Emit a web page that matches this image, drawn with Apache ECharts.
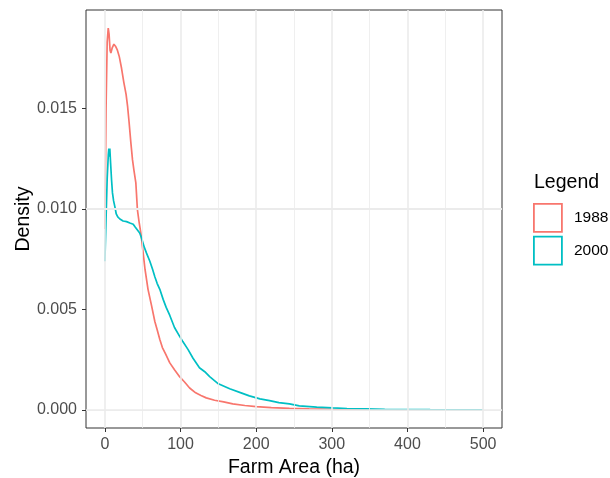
<!DOCTYPE html>
<html>
<head>
<meta charset="utf-8">
<script src="https://cdn.jsdelivr.net/npm/echarts@6/dist/echarts.min.js"></script>
<style>
  html, body { margin: 0; padding: 0; background: #fff; }
  #chart { width: 610px; height: 478px; }
</style>
</head>
<body>
<div id="chart"></div>
<script>
// Kernel density of farm area (ha), two census years: [area, density]
const density1988 = [
  [0, 0.0090], [1.5, 0.0150], [3, 0.0183], [4.4, 0.0190], [5.5, 0.0187], [6.8, 0.0179],
  [7.9, 0.01776], [9.5, 0.0180], [11.9, 0.0182], [14, 0.0181], [16.5, 0.0179], [19, 0.01758],
  [22, 0.0170], [25, 0.0163], [28, 0.0157], [30, 0.0151], [32, 0.0143], [34.3, 0.0133],
  [36.5, 0.01244], [38.5, 0.0119], [40.9, 0.0113], [43, 0.00995], [45, 0.0094], [47.5, 0.0088],
  [50, 0.0080], [53, 0.0070], [57, 0.0060], [61.6, 0.0052], [66, 0.0044], [69, 0.0040],
  [72.6, 0.0035], [76, 0.0031], [80, 0.0028], [85.8, 0.00234], [92, 0.0020], [99, 0.00164],
  [105, 0.0014], [112, 0.00109], [120, 0.00085], [127, 0.00072], [134, 0.0006], [145, 0.00048],
  [157, 0.0004], [169, 0.0003], [185, 0.00022], [200, 0.00016], [220, 0.00011], [244, 0.00008],
  [270, 0.00005], [300, 0.00003], [340, 0.000015], [380, 0.000008], [420, 0.000004],
  [460, 0.000002], [500, 0]
];
const density2000 = [
  [0, 0.0074], [1.5, 0.0095], [3, 0.0115], [4.5, 0.0127], [5.2, 0.0130], [5.8, 0.0126],
  [6.5, 0.0130], [7.5, 0.0123], [8.8, 0.01144], [10, 0.0108], [11.5, 0.0104], [13.2, 0.0101],
  [15, 0.00975], [17, 0.0096], [19.8, 0.0095], [24, 0.0094], [28.6, 0.00937], [33, 0.0093],
  [37.4, 0.00924], [40, 0.0091], [41.8, 0.00905], [44, 0.0089], [46, 0.0088], [48.4, 0.00856],
  [52, 0.0081], [55, 0.0078], [59.4, 0.0074], [63, 0.0070], [66, 0.00663], [69, 0.0063],
  [72.6, 0.0060], [77, 0.0055], [81, 0.0051], [85.8, 0.0047], [92, 0.0041], [99, 0.00365],
  [103, 0.0034], [110, 0.0030], [116.5, 0.00257], [125, 0.0021], [132, 0.0019], [138.5, 0.00166],
  [150, 0.0013], [165, 0.00105], [180, 0.00085], [191, 0.0007], [205, 0.00055], [217.7, 0.00046],
  [230, 0.00036], [244, 0.0003], [257, 0.0002], [280, 0.00014], [301, 0.0001], [320, 0.00007],
  [345, 0.00005], [370, 0.00003], [400, 0.00002], [430, 0.00001], [460, 0.000005], [500, 0]
];
const seriesNames = ['1988', '2000'];
const seriesColors = ['#F8766D', '#00BFC4'];
const xTicks = [0, 100, 200, 300, 400, 500];
const xMinor = [50, 150, 250, 350, 450];
const yTicks = [0, 0.005, 0.010, 0.015];
const yMinor = [0.0025, 0.0075, 0.0125, 0.0175];

const FONT = '"Liberation Sans", Arial, sans-serif';
const majorGrid = { color: '#EBEBEB', width: 1.6, type: 'solid' };
const minorGrid = { color: '#EBEBEB', width: 0.8, type: 'solid' };

const gridLines = []
  .concat(xMinor.map(v => ({ xAxis: v, lineStyle: minorGrid })))
  .concat(yMinor.map(v => ({ yAxis: v, lineStyle: minorGrid })))
  .concat(xTicks.map(v => ({ xAxis: v, lineStyle: majorGrid })))
  .concat(yTicks.map(v => ({ yAxis: v, lineStyle: majorGrid })));

const chart = echarts.init(document.getElementById('chart'), null, { renderer: 'canvas' });
chart.setOption({
  animation: false,
  backgroundColor: '#ffffff',
  textStyle: { fontFamily: FONT },
  title: {
    text: 'Legend',
    left: 534, top: 173,
    padding: 0,
    textStyle: { fontFamily: FONT, fontSize: 19.5, fontWeight: 'normal', color: '#000' }
  },
  legend: {
    orient: 'vertical',
    left: 533, top: 203,
    padding: 0,
    itemWidth: 28, itemHeight: 28, itemGap: 3,
    data: seriesNames.map((n, i) => ({
      name: n,
      icon: 'rect',
      itemStyle: { color: '#ffffff', borderColor: seriesColors[i], borderWidth: 1.8 }
    })),
    textStyle: { fontFamily: FONT, fontSize: 15.5, color: '#000', padding: [2, 0, 0, 7] },
    selectedMode: false
  },
  grid: {
    left: 86, top: 10, width: 416, height: 418,
    show: true, borderColor: '#333333', borderWidth: 1, backgroundColor: 'transparent',
    containLabel: false, outerBoundsMode: 'none'
  },
  xAxis: {
    type: 'value', min: -25, max: 525,
    name: 'Farm Area (ha)', nameLocation: 'middle', nameGap: 30, nameMoveOverlap: false,
    nameTextStyle: { fontFamily: FONT, fontSize: 19.5, color: '#000' },
    axisLine: { show: false, onZero: false },
    axisTick: { show: true, length: 4, customValues: xTicks, lineStyle: { color: '#333333', width: 1 } },
    axisLabel: { customValues: xTicks, margin: 9, fontSize: 16, color: '#4D4D4D', fontFamily: FONT },
    splitLine: { show: false }
  },
  yAxis: {
    type: 'value', min: -0.0009, max: 0.0199,
    name: 'Density', nameLocation: 'middle', nameGap: 52, nameRotate: 90, nameMoveOverlap: false,
    nameTextStyle: { fontFamily: FONT, fontSize: 19.5, color: '#000' },
    axisLine: { show: false, onZero: false },
    axisTick: { show: true, length: 4, customValues: yTicks, lineStyle: { color: '#333333', width: 1 } },
    axisLabel: {
      customValues: yTicks, margin: 9, fontSize: 16, color: '#4D4D4D', fontFamily: FONT,
      formatter: v => v.toFixed(3)
    },
    splitLine: { show: false }
  },
  series: [
    {
      name: 'grid', type: 'line', data: [], z: 0, silent: true,
      markLine: {
        silent: true, symbol: ['none', 'none'], label: { show: false },
        animation: false, data: gridLines
      }
    },
    {
      name: seriesNames[0], type: 'line', data: density1988, showSymbol: false,
      lineStyle: { color: seriesColors[0], width: 1.7 }, itemStyle: { color: seriesColors[0] }, z: 2
    },
    {
      name: seriesNames[1], type: 'line', data: density2000, showSymbol: false,
      lineStyle: { color: seriesColors[1], width: 1.7 }, itemStyle: { color: seriesColors[1] }, z: 3
    }
  ]
});
</script>
</body>
</html>
